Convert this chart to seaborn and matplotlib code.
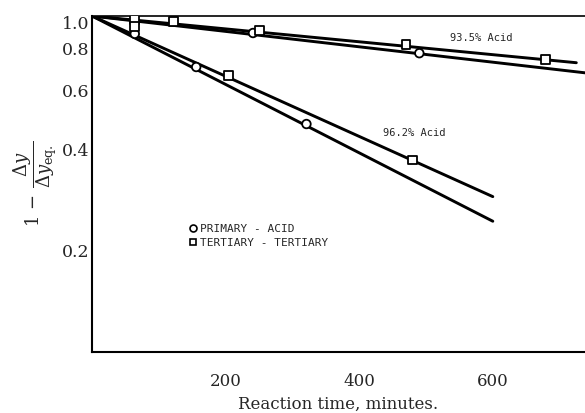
import numpy as np
import pandas as pd
import matplotlib
matplotlib.use("Agg")
import matplotlib.pyplot as plt
from matplotlib.lines import Line2D
import seaborn as sns

# ---- data ----
# primary-acid (circles)
prim_time = [64, 156, 321, 241, 490]
prim_value = [0.885, 0.705, 0.477, 0.89, 0.775]
prim_acid = ["96.2%", "96.2%", "96.2%", "93.5%", "93.5%"]

# tertiary-tertiary (squares)
tert_time = [64, 64, 122, 251, 204, 470, 480, 679]
tert_value = [0.975, 0.93, 0.962, 0.905, 0.665, 0.822, 0.373, 0.742]
tert_acid = ["93.5%", "96.2%", "93.5%", "93.5%", "96.2%", "93.5%", "96.2%", "93.5%"]

# fitted straight lines (start, end)
fit_names = ["93.5 tert", "93.5 prim", "96.2 tert", "96.2 prim"]
fit_t0 = [0, 0, 0, 0]
fit_t1 = [725, 745, 600, 600]
fit_v0 = [1.0, 1.0, 1.0, 1.0]
fit_v1 = [0.726, 0.675, 0.290, 0.245]

yticks = [0.2, 0.4, 0.6, 0.8, 1.0]
ytick_labels = ["0.2", "0.4", "0.6", "0.8", "1.0"]
xticks = [200, 400, 600]
series_labels = ["PRIMARY - ACID", "TERTIARY - TERTIARY"]
acid_labels = ["93.5% Acid", "96.2% Acid"]

# ---- build tables ----
pts = pd.concat([
    pd.DataFrame({"t": prim_time, "v": prim_value, "acid": prim_acid, "sys": series_labels[0]}),
    pd.DataFrame({"t": tert_time, "v": tert_value, "acid": tert_acid, "sys": series_labels[1]}),
], ignore_index=True)

fits = pd.DataFrame({
    "name": fit_names * 2,
    "t": fit_t0 + fit_t1,
    "v": fit_v0 + fit_v1,
})

sns.set_style("white")
plt.rcParams["font.family"] = ["DejaVu Serif"]
plt.rcParams["mathtext.fontset"] = "dejavuserif"

fig = plt.figure(figsize=(5.85, 4.13), dpi=100)
ax = fig.add_axes([92 / 585, 61 / 413, 1 - 92 / 585, (352 - 16) / 413])

sns.lineplot(data=fits, x="t", y="v", units="name", estimator=None,
             color="black", linewidth=2.1, ax=ax, legend=False, sort=False)
sns.scatterplot(data=pts, x="t", y="v", style="sys",
                markers={series_labels[0]: "o", series_labels[1]: "s"},
                color="white", edgecolor="black", linewidth=1.3, s=38,
                ax=ax, legend=False, zorder=5)

ax.set_yscale("log")
ax.set_ylim(0.1, 1.0)
ax.set_xlim(0, 738)
ax.set_yticks(yticks)
ax.set_yticklabels(ytick_labels)
ax.yaxis.set_minor_locator(matplotlib.ticker.NullLocator())
ax.set_xticks(xticks)
ax.set_xticklabels([str(v) for v in xticks])

ax.tick_params(axis="y", direction="in", length=8, width=1.0, labelsize=12.5, pad=2)
ax.tick_params(axis="x", direction="in", length=7, width=0.8, labelsize=12, pad=15)
ax.get_yticklabels()[-1].set_va("top")

for side in ["left", "bottom"]:
    ax.spines[side].set_linewidth(1.5)
    ax.spines[side].set_color("black")
ax.spines["top"].set_linewidth(1.2)
ax.spines["top"].set_color("black")
ax.spines["right"].set_visible(False)

ax.set_xlabel("Reaction time, minutes.", fontsize=12, labelpad=4)
ax.set_ylabel(r"$1\,-\,\dfrac{\Delta y}{\Delta y_{\mathrm{eq.}}}$", fontsize=13, labelpad=2)

ax.text(582, 0.863, acid_labels[0], fontsize=7.5, family="DejaVu Sans Mono",
        ha="center", va="center")
ax.text(482, 0.447, acid_labels[1], fontsize=7.5, family="DejaVu Sans Mono",
        ha="center", va="center")

handles = [
    Line2D([], [], marker="o", linestyle="none", markerfacecolor="white",
           markeredgecolor="black", markeredgewidth=1.2, markersize=5),
    Line2D([], [], marker="s", linestyle="none", markerfacecolor="white",
           markeredgecolor="black", markeredgewidth=1.2, markersize=5),
]
ax.legend(handles, series_labels, loc="upper left", bbox_to_anchor=(0.18, 0.405),
          frameon=False, prop={"family": "DejaVu Sans Mono", "size": 8},
          handletextpad=0.2, labelspacing=0.4, handlelength=0.8, borderpad=0.2)

fig.savefig("out.png", dpi=100)
